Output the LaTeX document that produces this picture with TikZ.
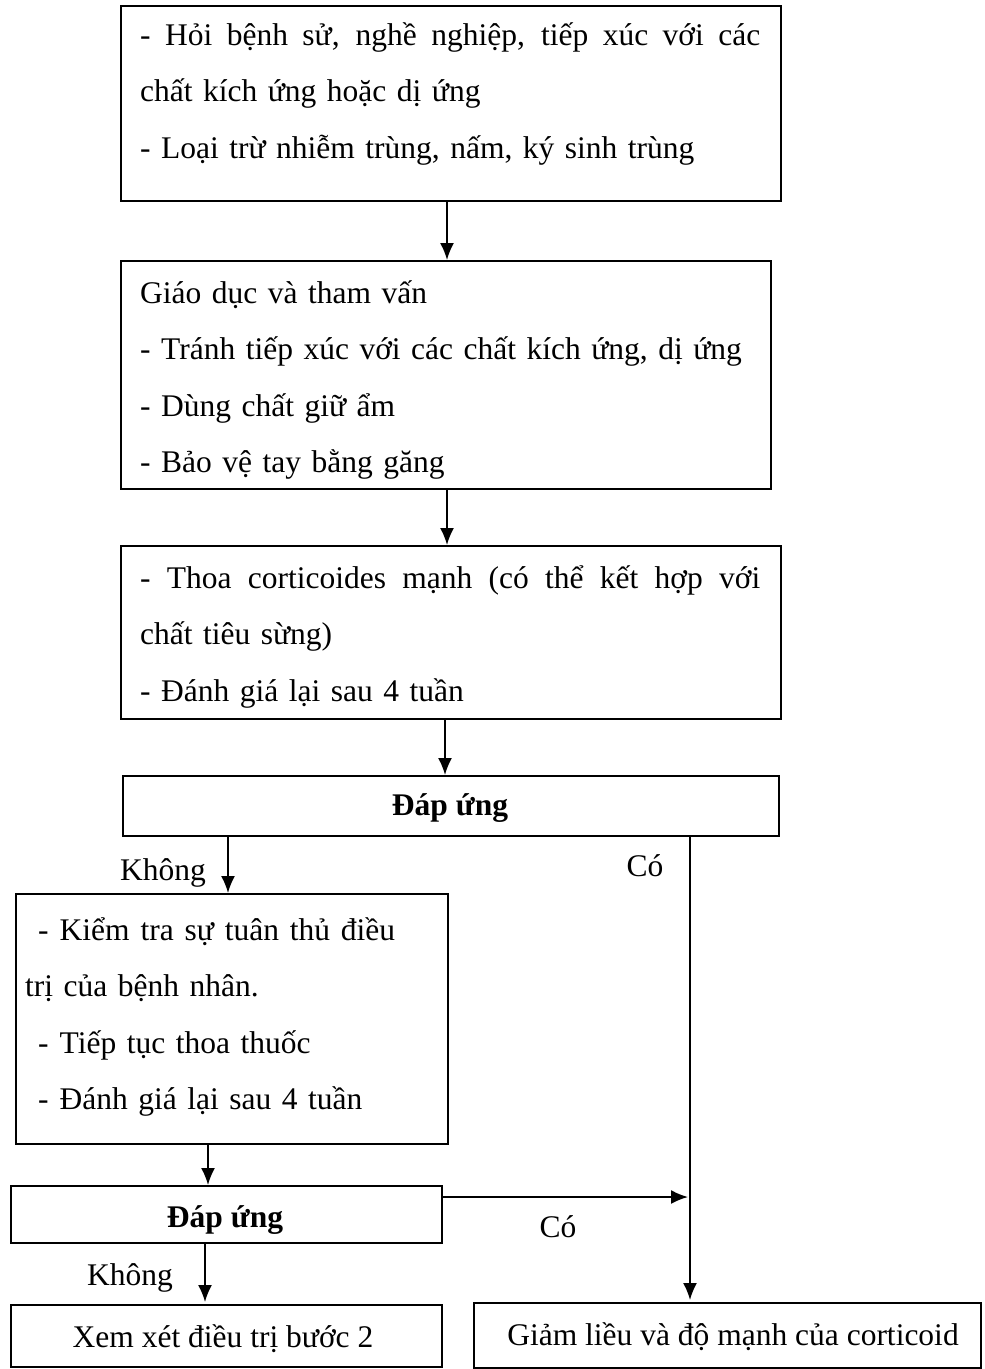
\documentclass[tikz,border=0pt]{standalone}
\usepackage{fontspec}
\setmainfont{Liberation Serif}
\usetikzlibrary{arrows.meta,calc}
\newcommand{\jline}[2]{\hbox to #1{\spaceskip=.25em plus 2em minus .05em\relax #2}}
\tikzset{
  box/.style={draw, line width=1.6pt, inner sep=0pt, anchor=north west},
  txt/.style={anchor=base west, inner sep=0pt, align=left, text width=#1, font=\fontsize{31.5}{56.5}\selectfont},
  lbl/.style={anchor=base, inner sep=0pt, font=\fontsize{31.5}{40}\selectfont},
  blbl/.style={anchor=base, inner sep=0pt, font=\fontsize{31.5}{40}\selectfont\bfseries},
  arr/.style={-{Latex[length=17pt,width=14pt]}, line width=1.8pt}
}
\begin{document}
\begin{tikzpicture}[x=1pt,y=-1pt]
\useasboundingbox (0,0) rectangle (985,1369);
\fill[white] (0,0) rectangle (985,1369);
% boxes
\node[box, minimum width=660pt, minimum height=195pt] (b1) at (120,5) {};
\node[box, minimum width=650pt, minimum height=228pt] (b2) at (120,260) {};
\node[box, minimum width=660pt, minimum height=173pt] (b3) at (120,545) {};
\node[box, minimum width=656pt, minimum height=60pt] (b4) at (122,775) {};
\node[box, minimum width=432pt, minimum height=250pt] (b5) at (15,893) {};
\node[box, minimum width=431pt, minimum height=57pt] (b6) at (10,1185) {};
\node[box, minimum width=431pt, minimum height=62pt] (b7) at (10,1304) {};
\node[box, minimum width=507pt, minimum height=65pt] (b8) at (473,1302) {};
% texts
\node[txt=640pt] (t1) at (140,45) {\jline{620pt}{- Hỏi bệnh sử, nghề nghiệp, tiếp xúc với các}\\chất kích ứng hoặc dị ứng\\- Loại trừ nhiễm trùng, nấm, ký sinh trùng};
\node[txt=630pt] (t2) at (140,303) {Giáo dục và tham vấn\\- Tránh tiếp xúc với các chất kích ứng, dị ứng\\- Dùng chất giữ ẩm\\- Bảo vệ tay bằng găng};
\node[txt=640pt] (t3) at (140,588) {\jline{620pt}{- Thoa corticoides mạnh (có thể kết hợp với}\\chất tiêu sừng)\\- Đánh giá lại sau 4 tuần};
\node[blbl] (t4) at (450,815) {Đáp ứng};
\node[txt=420pt] (t5) at (25,940) {\hspace{13pt}\jline{357pt}{-\hspace{11pt}Kiểm tra sự tuân thủ điều}\\trị của bệnh nhân.\\\hspace{13pt}-\hspace{11pt}Tiếp tục thoa thuốc\\\hspace{13pt}-\hspace{11pt}Đánh giá lại sau 4 tuần};
\node[blbl] (t6) at (225,1227) {Đáp ứng};
\node[lbl] (t7) at (223,1347) {Xem xét điều trị bước 2};
\node[lbl] (t8) at (733,1345) {Giảm liều và độ mạnh của corticoid};
% connector labels
\node[lbl] (k1) at (163,880) {Không};
\node[lbl] (c1) at (645,876) {Có};
\node[lbl] (c2) at (558,1237) {Có};
\node[lbl] (k2) at (130,1285) {Không};
% connectors
\draw[arr] ($(b1.south west)+(327,0)$) -- ($(b2.north west)+(327,0)$);
\draw[arr] ($(b2.south west)+(327,0)$) -- ($(b3.north west)+(327,0)$);
\draw[arr] ($(b3.south west)+(325,0)$) -- ($(b4.north west)+(323,0)$);
\draw[arr] ($(b4.south west)+(106,0)$) -- ($(b5.north west)+(213,0)$);
\draw[arr] ($(b4.south west)+(568,0)$) -- ($(b8.north west)+(217,-2)$);
\draw[arr] ($(b5.south west)+(193,0)$) -- ($(b6.north west)+(198,0)$);
\coordinate (j) at ($(b8.north west)+(215,-105)$);
\draw[arr] ($(b6.north east)+(0,12)$) -- (j);
\draw[arr] ($(b6.south west)+(195,0)$) -- ($(b7.north west)+(195,-2)$);
\end{tikzpicture}
\end{document}
